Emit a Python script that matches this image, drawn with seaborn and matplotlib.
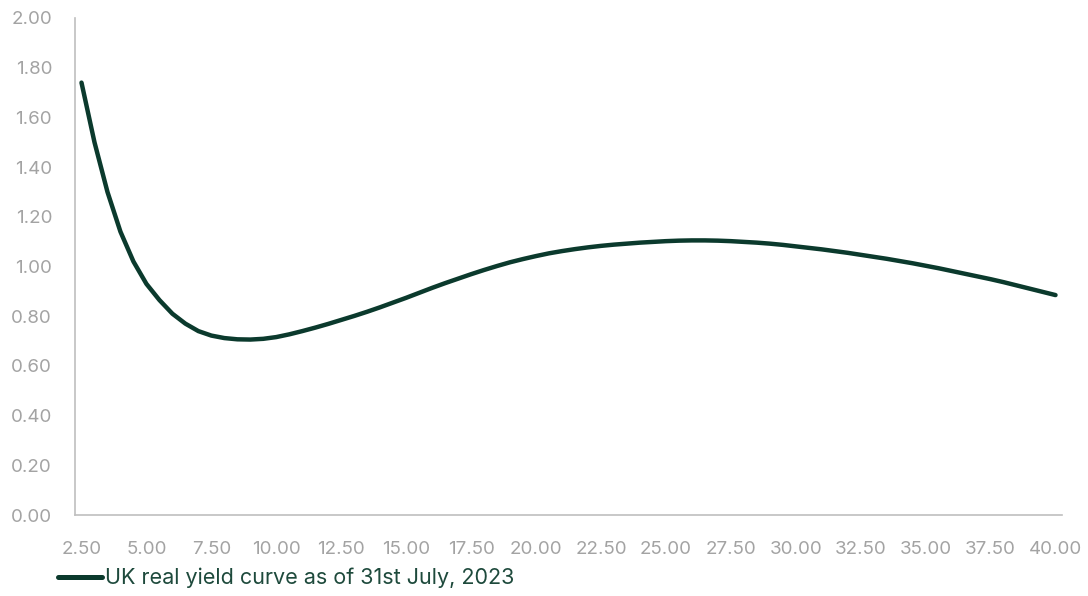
import matplotlib
matplotlib.use("Agg")
import matplotlib.pyplot as plt
import seaborn as sns
import pandas as pd

# Maturity in years (half-year steps) and real yield in %
maturity = [
    2.5, 3.0, 3.5, 4.0, 4.5, 5.0, 5.5, 6.0, 6.5, 7.0,
    7.5, 8.0, 8.5, 9.0, 9.5, 10.0, 10.5, 11.0, 11.5, 12.0,
    12.5, 13.0, 13.5, 14.0, 14.5, 15.0, 15.5, 16.0, 16.5, 17.0,
    17.5, 18.0, 18.5, 19.0, 19.5, 20.0, 20.5, 21.0, 21.5, 22.0,
    22.5, 23.0, 23.5, 24.0, 24.5, 25.0, 25.5, 26.0, 26.5, 27.0,
    27.5, 28.0, 28.5, 29.0, 29.5, 30.0, 30.5, 31.0, 31.5, 32.0,
    32.5, 33.0, 33.5, 34.0, 34.5, 35.0, 35.5, 36.0, 36.5, 37.0,
    37.5, 38.0, 38.5, 39.0, 39.5, 40.0,
]
real_yield = [
    1.74, 1.50, 1.30, 1.14, 1.02, 0.93, 0.865, 0.81, 0.77, 0.74,
    0.722, 0.712, 0.707, 0.706, 0.709, 0.716, 0.727, 0.740, 0.754, 0.769,
    0.785, 0.801, 0.818, 0.836, 0.855, 0.874, 0.894, 0.914, 0.933, 0.951,
    0.969, 0.986, 1.002, 1.017, 1.030, 1.042, 1.053, 1.062, 1.070, 1.077,
    1.083, 1.088, 1.092, 1.096, 1.099, 1.102, 1.104, 1.105, 1.105, 1.104,
    1.102, 1.099, 1.096, 1.092, 1.087, 1.081, 1.075, 1.069, 1.062, 1.055,
    1.047, 1.039, 1.031, 1.022, 1.013, 1.003, 0.993, 0.982, 0.971, 0.960,
    0.949, 0.937, 0.924, 0.911, 0.898, 0.885,
]
series_label = "UK real yield curve as of 31st July, 2023"

x_ticks = [2.5 + 2.5 * i for i in range(16)]
x_tick_labels = [f"{v:.2f}" for v in x_ticks]
y_ticks = [0.2 * i for i in range(11)]
y_tick_labels = [f"{v:.2f}" for v in y_ticks]

df = pd.DataFrame({"maturity": maturity, "yield": real_yield,
                   "series": series_label})

sns.set_theme(style="white")
plt.rcParams["font.family"] = ["Inter", "DejaVu Sans"]

line_color = "#0b3a2d"
axis_gray = "#bfbfbf"
label_gray = "#a3a3a3"

fig = plt.figure(figsize=(10.88, 5.96), dpi=100)
ax = fig.add_axes([75 / 1088, 81 / 596, (1062 - 75) / 1088, (515 - 18) / 596])

sns.lineplot(data=df, x="maturity", y="yield", hue="series",
             palette=[line_color], linewidth=3.2, ax=ax, legend=False,
             solid_capstyle="round")

ax.set_xlim(2.25, 40.25)
ax.set_ylim(0, 2.0)
ax.set_xticks(x_ticks)
ax.set_xticklabels(x_tick_labels)
ax.set_yticks(y_ticks)
ax.set_yticklabels(y_tick_labels)
ax.set_xlabel("")
ax.set_ylabel("")
ax.tick_params(axis="both", length=0, colors=label_gray, labelsize=13.5)
ax.tick_params(axis="x", pad=19)
ax.tick_params(axis="y", pad=16.5)

for side in ["top", "right"]:
    ax.spines[side].set_visible(False)
for side in ["left", "bottom"]:
    ax.spines[side].set_color(axis_gray)
    ax.spines[side].set_linewidth(1.2)

handle = plt.Line2D([], [], color=line_color, linewidth=3.6,
                    solid_capstyle="round")
leg = fig.legend([handle], [series_label], loc="center left",
                 bbox_to_anchor=(58 / 1088, 1 - 578 / 596),
                 frameon=False, borderpad=0, borderaxespad=0,
                 handlelength=2.05, handletextpad=0.15,
                 prop={"size": 15.5})
for t in leg.get_texts():
    t.set_color("#1e4a3c")

fig.savefig("out.png", dpi=100)
